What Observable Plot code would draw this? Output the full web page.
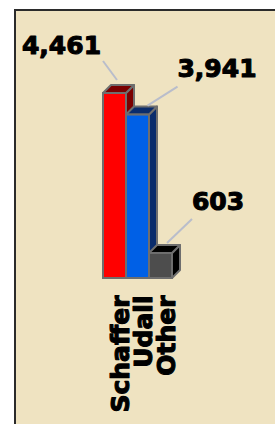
<!DOCTYPE html>
<html><head><meta charset="utf-8">
<script src="https://cdn.jsdelivr.net/npm/d3@7"></script>
<script src="https://cdn.jsdelivr.net/npm/@observablehq/plot@0.6"></script>
<style>
html,body{margin:0;padding:0;background:#fff;}
#wrap{position:relative;width:275px;height:424px;overflow:hidden;}
#panel{position:absolute;left:14px;top:9px;width:300px;height:450px;background:#efe3c1;border-left:2px solid #2b2b2b;border-top:2px solid #2b2b2b;}
#chart{position:absolute;left:0;top:0;}
#chart svg{background:none;display:block;}
</style></head><body>
<div id="wrap"><div id="panel"></div><div id="chart"></div></div>
<script>
const candidates = ["Schaffer", "Udall", "Other"];
const votes = [4461, 3941, 603];
const frontColors = ["#ff0000", "#0060e6", "#4d4d4d"];
const sideColors = ["#7a0000", "#0a2c6c", "#000000"];

const data = candidates.map((c, i) => ({candidate: c, votes: votes[i]}));

const DEPTH = 8;
const EDGE = "#6e6e6e";
const FONT = "DejaVu Sans";
// label placement relative to the top-centre of each bar: [dx, dy]
const labelOffsets = [[-53.5, -48], [79, -46], [57, -51]];
// leader lines relative to the top-centre of each bar: [x1, y1, x2, y2]
const leaderOffsets = [[-11.5, -32, 2.5, -13], [40, -28, 10, -9], [31.5, -34, 6.5, -10]];

function depthFaces(index, scales) {
  const {x, y} = scales;
  const bw = x.bandwidth ? x.bandwidth() : 23;
  const g = d3.create("svg:g");
  for (const i of index) {
    const d = data[i];
    const x1 = x(d.candidate), x2 = x1 + bw, yt = y(d.votes), yb = y(0);
    g.append("path")
      .attr("d", `M${x2},${yt}L${x2 + DEPTH},${yt - DEPTH}L${x2 + DEPTH},${yb - DEPTH}L${x2},${yb}Z`)
      .attr("fill", sideColors[i]).attr("stroke", EDGE).attr("stroke-width", 2).attr("stroke-linejoin", "round");
    g.append("path")
      .attr("d", `M${x1},${yt}L${x1 + DEPTH},${yt - DEPTH}L${x2 + DEPTH},${yt - DEPTH}L${x2},${yt}Z`)
      .attr("fill", sideColors[i]).attr("stroke", EDGE).attr("stroke-width", 2).attr("stroke-linejoin", "round");
  }
  return g.node();
}

function leaders(index, scales) {
  const {x, y} = scales;
  const bw = x.bandwidth ? x.bandwidth() : 23;
  const g = d3.create("svg:g");
  for (const i of index) {
    const d = data[i];
    const cx = x(d.candidate) + bw / 2, cy = y(d.votes);
    const [a, b, c, e] = leaderOffsets[i];
    g.append("line")
      .attr("x1", cx + a).attr("y1", cy + b).attr("x2", cx + c).attr("y2", cy + e)
      .attr("stroke", "#b9bdcb").attr("stroke-width", 2);
  }
  return g.node();
}

const fmt = d3.format(",");
const valueLabels = data.map((d, i) => Plot.text([d], {
  x: "candidate", y: "votes", text: (v) => fmt(v.votes),
  dx: labelOffsets[i][0], dy: labelOffsets[i][1],
  fontFamily: FONT, fontWeight: "bold", fontSize: 25, fill: "#000",
  stroke: "#000", strokeWidth: 1.1
}));

const chart = Plot.plot({
  width: 275,
  height: 424,
  marginLeft: 103,
  marginRight: 103,
  marginTop: 93,
  marginBottom: 146,
  style: {background: "none", overflow: "visible"},
  x: {domain: candidates, padding: 0, axis: null},
  y: {domain: [0, d3.max(votes)], axis: null},
  color: {domain: candidates, range: frontColors},
  marks: [
    Plot.barY(data, {x: "candidate", y: "votes", render: depthFaces}),
    Plot.barY(data, {x: "candidate", y: "votes", fill: "candidate", stroke: EDGE, strokeWidth: 2}),
    Plot.barY(data, {x: "candidate", y: "votes", render: leaders}),
    ...valueLabels,
    Plot.text(data, {
      x: "candidate", y: 0, text: "candidate", rotate: -90, textAnchor: "end",
      dx: 6, dy: 17, fontFamily: FONT, fontWeight: "bold", fontSize: 25, fill: "#000",
      stroke: "#000", strokeWidth: 1.1
    })
  ]
});
document.getElementById("chart").appendChild(chart);
</script>
</body></html>
